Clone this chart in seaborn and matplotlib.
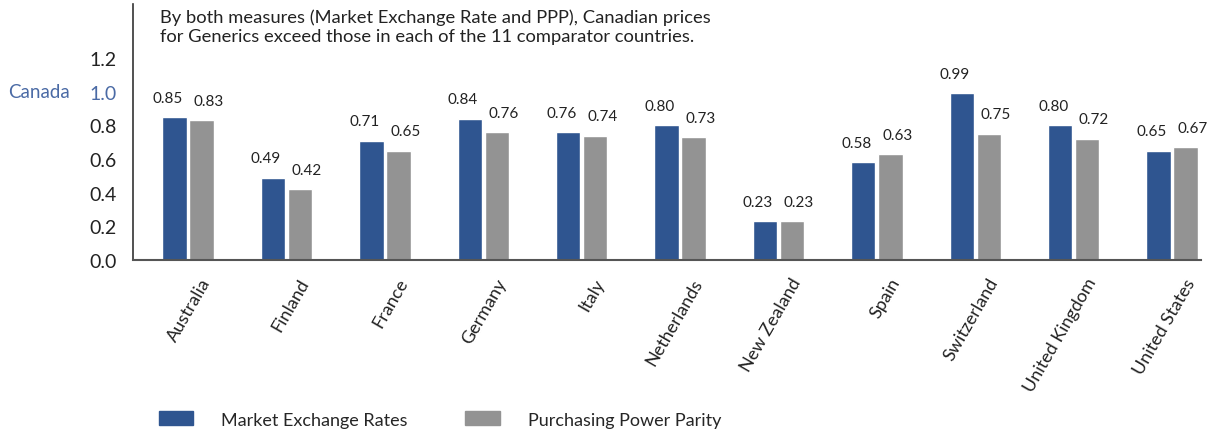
import numpy as np
import pandas as pd
import matplotlib
matplotlib.use("Agg")
import matplotlib.pyplot as plt
import matplotlib.transforms as mtransforms
import seaborn as sns

countries = ["Australia", "Finland", "France", "Germany", "Italy", "Netherlands",
             "New Zealand", "Spain", "Switzerland", "United Kingdom", "United States"]
mer = [0.85, 0.49, 0.71, 0.84, 0.76, 0.80, 0.23, 0.58, 0.99, 0.80, 0.65]
ppp = [0.83, 0.42, 0.65, 0.76, 0.74, 0.73, 0.23, 0.63, 0.75, 0.72, 0.67]
series = ["Market Exchange Rates", "Purchasing Power Parity"]
colors = ["#2f5590", "#939393"]
canada_blue = "#4a6aa5"

df = pd.DataFrame({
    "country": countries * 2,
    "value": mer + ppp,
    "measure": [series[0]] * len(countries) + [series[1]] * len(countries),
})

sns.set_style("white")
plt.rcParams['font.family'] = ['Lato', 'DejaVu Sans']

fig = plt.figure(figsize=(12.09, 4.31), dpi=100)
ax = fig.add_axes([0.110, 0.394, 0.883, 0.594])

sns.barplot(data=df, x="country", y="value", hue="measure", palette=colors,
            width=0.55, gap=0.1, saturation=1, ax=ax, legend=False)

# value labels, nudged outward a little so the pairs don't collide
for cont, dx in zip(ax.containers, [-5, 5]):
    for bar in cont:
        h = bar.get_height()
        ax.annotate(f"{h:.2f}", (bar.get_x() + bar.get_width() / 2, h),
                    xytext=(dx, 9), textcoords="offset points",
                    ha="center", va="bottom", fontsize=11, color="#222222")

ax.set_xlim(-0.56, 10.29)
ax.set_ylim(0, 1.52)
ax.set_yticks([0, 0.2, 0.4, 0.6, 0.8, 1.0, 1.2])
ax.set_yticklabels(["0.0", "0.2", "0.4", "0.6", "0.8", "1.0", "1.2"], fontsize=14)
ax.tick_params(axis="y", length=0, pad=12, colors="#222222")
ax.get_yticklabels()[5].set_color(canada_blue)
ax.text(-0.117, 1.0, "Canada", transform=ax.get_yaxis_transform(), ha="left",
        va="center", fontsize=13.5, color=canada_blue)

ax.set_xlabel("")
ax.set_ylabel("")
# tick_params resets label transforms, so call it before shifting the labels
ax.tick_params(axis="x", length=0, colors="#222222")
offset = mtransforms.ScaledTranslation(0.12, -0.10, fig.dpi_scale_trans)
for lab in ax.get_xticklabels():
    lab.set_rotation(60)
    lab.set_ha("right")
    lab.set_rotation_mode("anchor")
    lab.set_fontsize(13)
    lab.set_transform(lab.get_transform() + offset)

for side in ["top", "right"]:
    ax.spines[side].set_visible(False)
ax.spines["left"].set_color("#333333")
ax.spines["bottom"].set_color("#555555")
ax.spines["left"].set_linewidth(1.2)
ax.spines["bottom"].set_linewidth(1.5)

ax.text(0.025, 0.985,
        "By both measures (Market Exchange Rate and PPP), Canadian prices\n"
        "for Generics exceed those in each of the 11 comparator countries.",
        transform=ax.transAxes, ha="left", va="top", fontsize=13.2,
        color="#222222", linespacing=1.25)

handles = [plt.Rectangle((0, 0), 1, 1, color=c) for c in colors]
fig.legend(handles, series, loc="lower left", bbox_to_anchor=(0.118, -0.032),
           ncol=2, frameon=False, fontsize=13, handlelength=1.9,
           handleheight=0.85, handletextpad=1.55, columnspacing=3.2)

fig.savefig("out.png", dpi=100)
